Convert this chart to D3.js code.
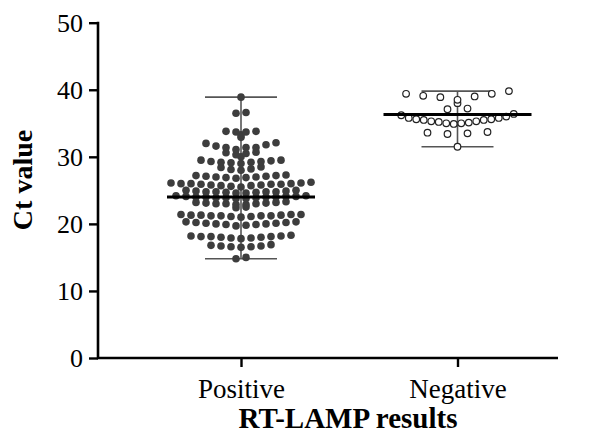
<!DOCTYPE html>
<html>
<head>
<meta charset="utf-8">
<script src="https://cdn.jsdelivr.net/npm/d3@7"></script>
<style>
  html, body { margin: 0; padding: 0; background: #fff; }
  svg { display: block; }
  text { font-family: "Liberation Serif", "Times New Roman", serif; }
</style>
</head>
<body>
<svg id="chart" width="603" height="437"></svg>
<script>
// ---- data ----
const categories = ["Positive", "Negative"];
const positiveValues = [
  38.9,
  36.5, 36.6,
  33.7, 33.8, 33.7, 33.8, 33.3, 32.9,
  32.0, 31.6, 31.4, 31.1, 31.4, 31.4, 31.8, 32.1,
  30.5, 30.7, 30.3, 30.0, 30.6,
  29.3, 29.3, 29.5, 29.5, 29.2, 29.0, 29.2, 29.4, 29.1,
  28.2, 28.0, 28.1, 28.4, 28.5,
  27.0, 27.2, 26.9, 27.1, 27.3, 26.8, 27.0, 27.2, 26.9, 27.1,
  26.0, 25.9, 26.1, 25.8, 26.2, 25.7, 26.0, 25.9, 25.6, 26.1, 25.8, 25.5, 26.0, 25.7, 25.9,
  24.8, 24.9, 24.7, 24.8, 25.0, 24.6, 24.9, 24.7, 24.8, 25.0, 24.6, 24.8,
  24.0, 24.1, 23.9, 24.2, 24.0, 23.8, 24.1, 24.0, 23.9, 24.2, 24.0, 23.8, 24.1, 23.9,
  23.1, 23.0, 23.2, 22.9, 23.1, 23.0, 23.3, 22.9, 23.0, 23.2,
  22.5, 22.4,
  21.3, 21.2, 21.4, 21.1, 21.3, 21.2, 21.0, 21.4, 21.2, 21.3, 21.1, 21.2, 21.4,
  20.2, 20.0, 20.3, 19.9, 20.1, 20.2, 19.8, 20.0, 20.3, 19.9, 20.1, 19.7,
  18.1, 18.0, 18.2, 17.9, 18.1, 18.3, 18.0, 18.2, 17.8, 18.1, 17.9,
  16.7, 16.6, 16.8, 16.5, 16.7, 16.9, 16.6,
  14.8, 15.0
];
const negativeValues = [
  39.8, 39.4, 39.4, 39.0, 38.9, 39.1,
  38.0, 38.5,
  37.2, 37.1,
  36.4, 36.2, 36.0, 35.8, 35.6, 35.5, 35.3, 35.2, 35.0, 34.9, 35.0, 35.1, 35.3, 35.5, 35.6, 35.8,
  33.6, 33.4, 33.5, 33.7,
  31.5
];
const centerValues = [24.0, 36.3];   // central (median) line per group
const yTicks = [0, 10, 20, 30, 40, 50];
const yTitle = "Ct value";
const xTitle = "RT-LAMP results";

// ---- layout ----
const svg = d3.select("#chart");
const axisX = 98, axisBottom = 358, axisTop = 22.7, axisRight = 558;
const y = d3.scaleLinear().domain([0, 50]).range([axisBottom, axisTop]);
const x = d3.scalePoint().domain(categories).range([241, 457.5]);

// row-based scatter layout (Prism-like): points with close values share a row,
// spread symmetrically around the column centre, lowest values in the middle
function rowLayout(values, gap, maxSpacing, maxWidth) {
  const sorted = values.slice().sort((a, b) => a - b);
  const rows = [];
  sorted.forEach((v, i) => {
    if (i === 0 || v - sorted[i - 1] > gap) rows.push([]);
    rows[rows.length - 1].push(v);
  });
  const pts = [];
  rows.forEach(row => {
    const n = row.length;
    const s = Math.min(maxSpacing, maxWidth / n);
    // slots ordered from centre outward, alternating sides
    const slots = d3.range(n).map(i => (i - (n - 1) / 2) * s)
      .sort((a, b) => Math.abs(a) - Math.abs(b) || a - b);
    row.forEach((v, i) => pts.push({ v, dx: slots[i] }));
  });
  return pts;
}

const groups = [
  { cat: categories[0], values: positiveValues, center: centerValues[0], filled: true, gap: 0.3, maxSpacing: 10, maxWidth: 150 },
  { cat: categories[1], values: negativeValues, center: centerValues[1], filled: false, gap: 0.45, maxSpacing: 20, maxWidth: 120 }
];

const capHalf = 36, lineHalf = 74;

groups.forEach(g => {
  const cx = x(g.cat);
  const gg = svg.append("g");
  const lo = d3.min(g.values), hi = d3.max(g.values);
  // range whisker
  gg.append("line").attr("x1", cx).attr("x2", cx).attr("y1", y(lo)).attr("y2", y(hi))
    .attr("stroke", "#555").attr("stroke-width", 1.6);
  [lo, hi].forEach(v => gg.append("line")
    .attr("x1", cx - capHalf).attr("x2", cx + capHalf).attr("y1", y(v)).attr("y2", y(v))
    .attr("stroke", "#555").attr("stroke-width", 1.6));
  // points
  const pts = rowLayout(g.values, g.gap, g.maxSpacing, g.maxWidth);
  gg.selectAll("circle").data(pts).join("circle")
    .attr("cx", d => cx + d.dx).attr("cy", d => y(d.v))
    .attr("r", g.filled ? 3.8 : 3.3)
    .attr("fill", g.filled ? "#3d3d3d" : "#fff")
    .attr("stroke", g.filled ? "none" : "#222")
    .attr("stroke-width", 1.2);
  // center line
  gg.append("line").attr("x1", cx - lineHalf).attr("x2", cx + lineHalf)
    .attr("y1", y(g.center)).attr("y2", y(g.center))
    .attr("stroke", "#000").attr("stroke-width", 3);
});

// y axis
const yAxis = svg.append("g").attr("transform", `translate(${axisX},0)`)
  .call(d3.axisLeft(y).tickValues(yTicks).tickSize(9).tickSizeOuter(0).tickPadding(6));
yAxis.select(".domain").remove();
yAxis.selectAll(".tick line").attr("stroke", "#000").attr("stroke-width", 2.4);
yAxis.selectAll(".tick text").attr("font-size", 26).attr("fill", "#000")
  .attr("font-family", "Liberation Serif, serif");

// x axis
const xAxis = svg.append("g").attr("transform", `translate(0,${axisBottom})`)
  .call(d3.axisBottom(x).tickSize(9).tickSizeOuter(0));
xAxis.select(".domain").remove();
xAxis.selectAll(".tick line").attr("stroke", "#000").attr("stroke-width", 2.4);
xAxis.selectAll(".tick text").attr("font-size", 27).attr("fill", "#000")
  .attr("font-family", "Liberation Serif, serif").attr("dy", 0).attr("y", 40);

// axis lines
svg.append("path")
  .attr("d", `M${axisX},${axisTop - 1}V${axisBottom}H${axisRight}`)
  .attr("fill", "none").attr("stroke", "#000").attr("stroke-width", 2.6);

// titles
svg.append("text").attr("transform", `translate(32,180) rotate(-90)`)
  .attr("text-anchor", "middle").attr("font-size", 28).attr("font-weight", "bold")
  .text(yTitle);
svg.append("text").attr("x", 348).attr("y", 428)
  .attr("text-anchor", "middle").attr("font-size", 29).attr("font-weight", "bold")
  .text(xTitle);
</script>
</body>
</html>
